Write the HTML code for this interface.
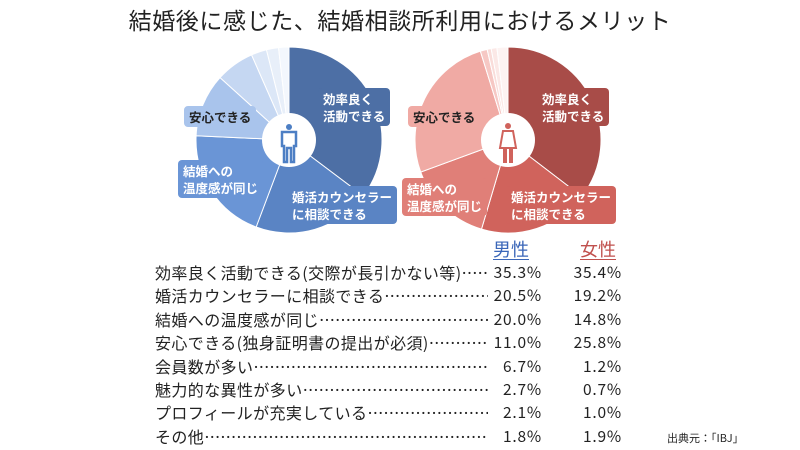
<!DOCTYPE html>
<html><head><meta charset="utf-8"><style>
body{margin:0;width:800px;height:450px;background:#fff;overflow:hidden;font-family:"Noto Sans CJK JP","Liberation Sans",sans-serif;color:#222;position:relative}
.t{position:absolute;left:0;width:800px;text-align:center;top:2px;font-size:23px;letter-spacing:0.6px}
.row{position:absolute;left:155px;width:333px;overflow:hidden;font-size:16px;white-space:nowrap;line-height:20px;letter-spacing:0.4px}
.m,.f{position:absolute;font-size:15.5px;text-align:right;line-height:20px;letter-spacing:0.8px}
.m{left:470px;width:72px}.f{left:550px;width:72px}
.h{position:absolute;top:236px;font-size:18px;text-decoration:underline;text-underline-offset:3px}
.lb{position:absolute;font-size:12.5px;font-weight:bold;line-height:17px;padding:2px 5px;border-radius:4px}
</style></head><body>
<div class="t">結婚後に感じた、結婚相談所利用におけるメリット</div>
<svg id="s" width="800" height="240" style="position:absolute;left:0;top:0"></svg>
<div class="lb" style="left:318px;top:88px;background:#4d6fa5;color:#fff">効率良く<br>活動できる</div>
<div class="lb" style="left:287px;top:186px;background:#5a84c4;color:#fff">婚活カウンセラー<br>に相談できる</div>
<div class="lb" style="left:178px;top:160px;background:#6a95d6;color:#fff">結婚への<br>温度感が同じ</div>
<div class="lb" style="left:184px;top:106px;background:#a9c4ec;color:#222">安心できる</div>
<div class="lb" style="left:537px;top:88px;background:#a84c48;color:#fff">効率良く<br>活動できる</div>
<div class="lb" style="left:506px;top:186px;background:#d0635c;color:#fff">婚活カウンセラー<br>に相談できる</div>
<div class="lb" style="left:402px;top:178px;background:#e07f78;color:#fff">結婚への<br>温度感が同じ</div>
<div class="lb" style="left:408px;top:106px;background:#f0aaa4;color:#222">安心できる</div>
<div class="h" style="left:493px;color:#3a66b8">男性</div>
<div class="h" style="left:580px;color:#c0504d">女性</div>
<div id="tb"></div>
<div style="position:absolute;left:667px;top:430px;font-size:11px">出典元：「IBJ」</div>
<script>
var s=document.getElementById('s');
function pie(cx,cy,r,vals,cols){var a=-Math.PI/2,h='';var tot=vals.reduce((x,y)=>x+y,0);
vals.forEach(function(v,i){var b=a+v/tot*2*Math.PI;var l=(b-a)>Math.PI?1:0;
h+='<path d="M'+cx+' '+cy+' L'+(cx+r*Math.cos(a))+' '+(cy+r*Math.sin(a))+' A'+r+' '+r+' 0 '+l+' 1 '+(cx+r*Math.cos(b))+' '+(cy+r*Math.sin(b))+'Z" fill="'+cols[i]+'" stroke="#fff" stroke-width="1"/>';a=b;});
h+='<circle cx="'+cx+'" cy="'+cy+'" r="27" fill="#fff"/>';return h;}
var h=pie(289,140,93,[35.3,20.5,20.0,11.0,6.7,2.7,2.1,1.8],['#4d6fa5','#5a84c4','#6a95d6','#a9c4ec','#c5d7f2','#dce7f7','#e8eff9','#f3f7fd']);
h+=pie(508,140,93,[35.4,19.2,14.8,25.8,1.2,0.7,1.0,1.9],['#a84c48','#d0635c','#e07f78','#f0aaa4','#f6c8c4','#f9dcd9','#fbe8e6','#fdf3f2']);
h+='<circle cx="289" cy="127" r="3" fill="#4d7fc4"/><path d="M282 132h14v14h-2v16h-3v-14h-4v14h-3v-16h-2z" fill="none" stroke="#4d7fc4" stroke-width="2.5"/>';
h+='<circle cx="508" cy="126" r="3" fill="#d0635c"/><path d="M503 131h10l3 17h-4v14h-2v-14h-4v14h-2v-14h-4z" fill="none" stroke="#d0635c" stroke-width="2"/>';
s.innerHTML=h;
var rows=[["効率良く活動できる(交際が長引かない等)","35.3%","35.4%"],["婚活カウンセラーに相談できる","20.5%","19.2%"],["結婚への温度感が同じ","20.0%","14.8%"],["安心できる(独身証明書の提出が必須)","11.0%","25.8%"],["会員数が多い","6.7%","1.2%"],["魅力的な異性が多い","2.7%","0.7%"],["プロフィールが充実している","2.1%","1.0%"],["その他","1.8%","1.9%"]];
var d='';for(var k=0;k<40;k++)d+='…';
var t='';rows.forEach(function(r,i){var y=262+i*23.4;t+='<div class="row" style="top:'+y+'px">'+r[0]+'<span style="letter-spacing:0">'+d+'</span></div><div class="m" style="top:'+y+'px">'+r[1]+'</div><div class="f" style="top:'+y+'px">'+r[2]+'</div>';});
document.getElementById('tb').innerHTML=t;
</script>
</body></html>
